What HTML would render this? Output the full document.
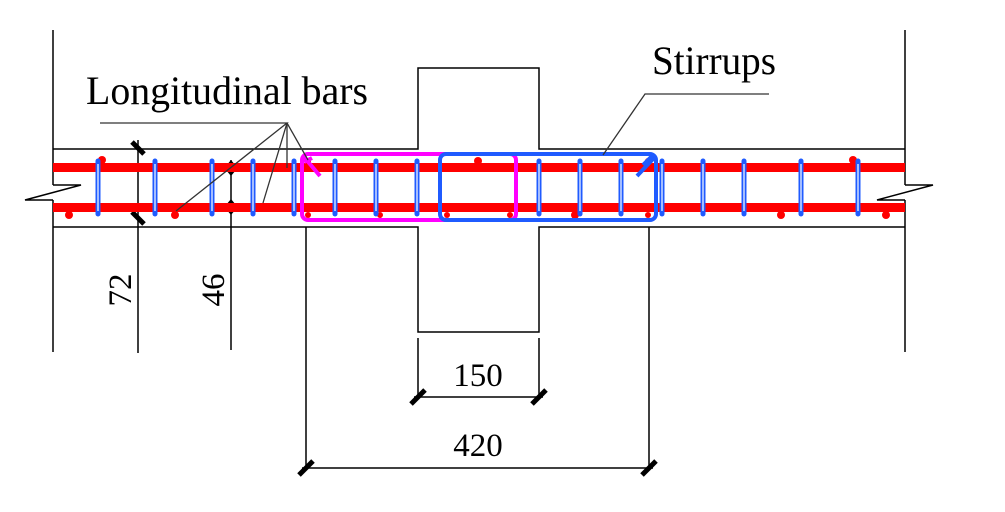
<!DOCTYPE html>
<html><head><style>
html,body{margin:0;padding:0;background:#fff;}
svg{display:block;}
text{font-family:"Liberation Serif",serif;fill:#000;}
</style></head><body>
<svg width="1005" height="512" viewBox="0 0 1005 512" xmlns="http://www.w3.org/2000/svg">
<g stroke="#000" stroke-width="1.5" fill="none">
  <line x1="53" y1="30" x2="53" y2="185"/>
  <line x1="53" y1="200" x2="53" y2="352"/>
  <line x1="905" y1="30" x2="905" y2="185"/>
  <line x1="905" y1="200" x2="905" y2="352"/>
  <polyline points="53,185 81,185 25,200 53,200"/>
  <polyline points="905,185 933,185 877,200 905,200"/>
  <polyline points="53,149 418,149 418,68 539,68 539,149 905,149"/>
  <polyline points="53,227 418,227 418,332 539,332 539,227 905,227"/>
  <line x1="138" y1="140" x2="138" y2="353"/>
  <line x1="231" y1="160" x2="231" y2="350"/>
  <line x1="418" y1="338" x2="418" y2="397"/>
  <line x1="539" y1="338" x2="539" y2="397"/>
  <line x1="414" y1="397" x2="543" y2="397"/>
  <line x1="306" y1="227" x2="306" y2="468"/>
  <line x1="649" y1="227" x2="649" y2="468"/>
  <line x1="302" y1="468" x2="653" y2="468"/>
</g>
<g stroke="#000" stroke-width="5">
  <line x1="132" y1="142" x2="144" y2="154"/>
  <line x1="132" y1="212" x2="144" y2="224"/>
  <line x1="411" y1="404" x2="425" y2="390"/>
  <line x1="532" y1="404" x2="546" y2="390"/>
  <line x1="299" y1="475" x2="313" y2="461"/>
  <line x1="642" y1="475" x2="656" y2="461"/>
</g>
<g fill="#000">
  <polygon points="231,160 226,166 236,166"/>
  <polygon points="231,176 226,170 236,170"/>
  <polygon points="231,199 226,205 236,205"/>
  <polygon points="231,215 226,209 236,209"/>
</g>
<g stroke="#f00" stroke-width="9">
  <line x1="53" y1="167.5" x2="905" y2="167.5"/>
  <line x1="53" y1="207.5" x2="905" y2="207.5"/>
</g>
<g fill="#f00">
  <circle cx="102" cy="160" r="4"/><circle cx="69" cy="215" r="4"/>
  <circle cx="175" cy="215" r="4"/><circle cx="308" cy="161" r="3"/>
  <circle cx="308" cy="215" r="3"/><circle cx="478" cy="161" r="4"/>
  <circle cx="380" cy="215" r="3"/><circle cx="447" cy="215" r="3"/>
  <circle cx="510" cy="215" r="3"/><circle cx="575" cy="215" r="4"/>
  <circle cx="648" cy="161" r="3"/><circle cx="648" cy="215" r="3"/>
  <circle cx="781" cy="215" r="4"/><circle cx="853" cy="160" r="4"/>
  <circle cx="886" cy="215" r="4"/>
</g>
<g stroke="#1f5bff" stroke-width="5" stroke-linecap="round">
  <line x1="98" y1="161" x2="98" y2="214"/><line x1="155" y1="161" x2="155" y2="214"/>
  <line x1="212" y1="161" x2="212" y2="214"/><line x1="253" y1="161" x2="253" y2="214"/>
  <line x1="294" y1="161" x2="294" y2="214"/><line x1="335" y1="161" x2="335" y2="214"/>
  <line x1="376" y1="161" x2="376" y2="214"/><line x1="417" y1="161" x2="417" y2="214"/>
  <line x1="539" y1="161" x2="539" y2="214"/><line x1="580" y1="161" x2="580" y2="214"/>
  <line x1="621" y1="161" x2="621" y2="214"/><line x1="662" y1="161" x2="662" y2="214"/>
  <line x1="703" y1="161" x2="703" y2="214"/><line x1="744" y1="161" x2="744" y2="214"/>
  <line x1="801" y1="161" x2="801" y2="214"/><line x1="858" y1="161" x2="858" y2="214"/>
</g>
<g stroke="#fff" stroke-width="1.2">
  <line x1="98" y1="164" x2="98" y2="211"/><line x1="155" y1="164" x2="155" y2="211"/>
  <line x1="212" y1="164" x2="212" y2="211"/><line x1="253" y1="164" x2="253" y2="211"/>
  <line x1="294" y1="164" x2="294" y2="211"/><line x1="335" y1="164" x2="335" y2="211"/>
  <line x1="376" y1="164" x2="376" y2="211"/><line x1="417" y1="164" x2="417" y2="211"/>
  <line x1="539" y1="164" x2="539" y2="211"/><line x1="580" y1="164" x2="580" y2="211"/>
  <line x1="621" y1="164" x2="621" y2="211"/><line x1="662" y1="164" x2="662" y2="211"/>
  <line x1="703" y1="164" x2="703" y2="211"/><line x1="744" y1="164" x2="744" y2="211"/>
  <line x1="801" y1="164" x2="801" y2="211"/><line x1="858" y1="164" x2="858" y2="211"/>
</g>
<rect x="302" y="154" width="214" height="66" rx="6" fill="none" stroke="#ff00ff" stroke-width="4"/>
<line x1="304" y1="157" x2="320" y2="176" stroke="#ff00ff" stroke-width="4"/>
<line x1="304" y1="162" x2="312" y2="158" stroke="#ff00ff" stroke-width="4"/>
<rect x="440" y="154" width="216" height="66" rx="6" fill="none" stroke="#1f5bff" stroke-width="4"/>
<line x1="654" y1="158" x2="637" y2="176" stroke="#1f5bff" stroke-width="4"/>
<line x1="652" y1="156" x2="643" y2="165" stroke="#1f5bff" stroke-width="4"/>
<g stroke="#333" stroke-width="1.3" fill="none">
  <polyline points="100,123 287,123 176,211"/>
  <line x1="287" y1="123" x2="263" y2="203"/>
  <line x1="287" y1="123" x2="287" y2="168"/>
  <line x1="287" y1="123" x2="308" y2="160"/>
  <polyline points="769,94 645,94 603,155"/>
</g>
<text x="86" y="104" font-size="40" textLength="282" lengthAdjust="spacingAndGlyphs">Longitudinal bars</text>
<text x="652" y="74" font-size="40" textLength="124" lengthAdjust="spacingAndGlyphs">Stirrups</text>
<text x="478" y="386" font-size="33" text-anchor="middle">150</text>
<text x="478" y="456" font-size="33" text-anchor="middle">420</text>
<text transform="translate(131,290) rotate(-90)" font-size="33" text-anchor="middle">72</text>
<text transform="translate(224,290) rotate(-90)" font-size="33" text-anchor="middle">46</text>
</svg>
</body></html>
